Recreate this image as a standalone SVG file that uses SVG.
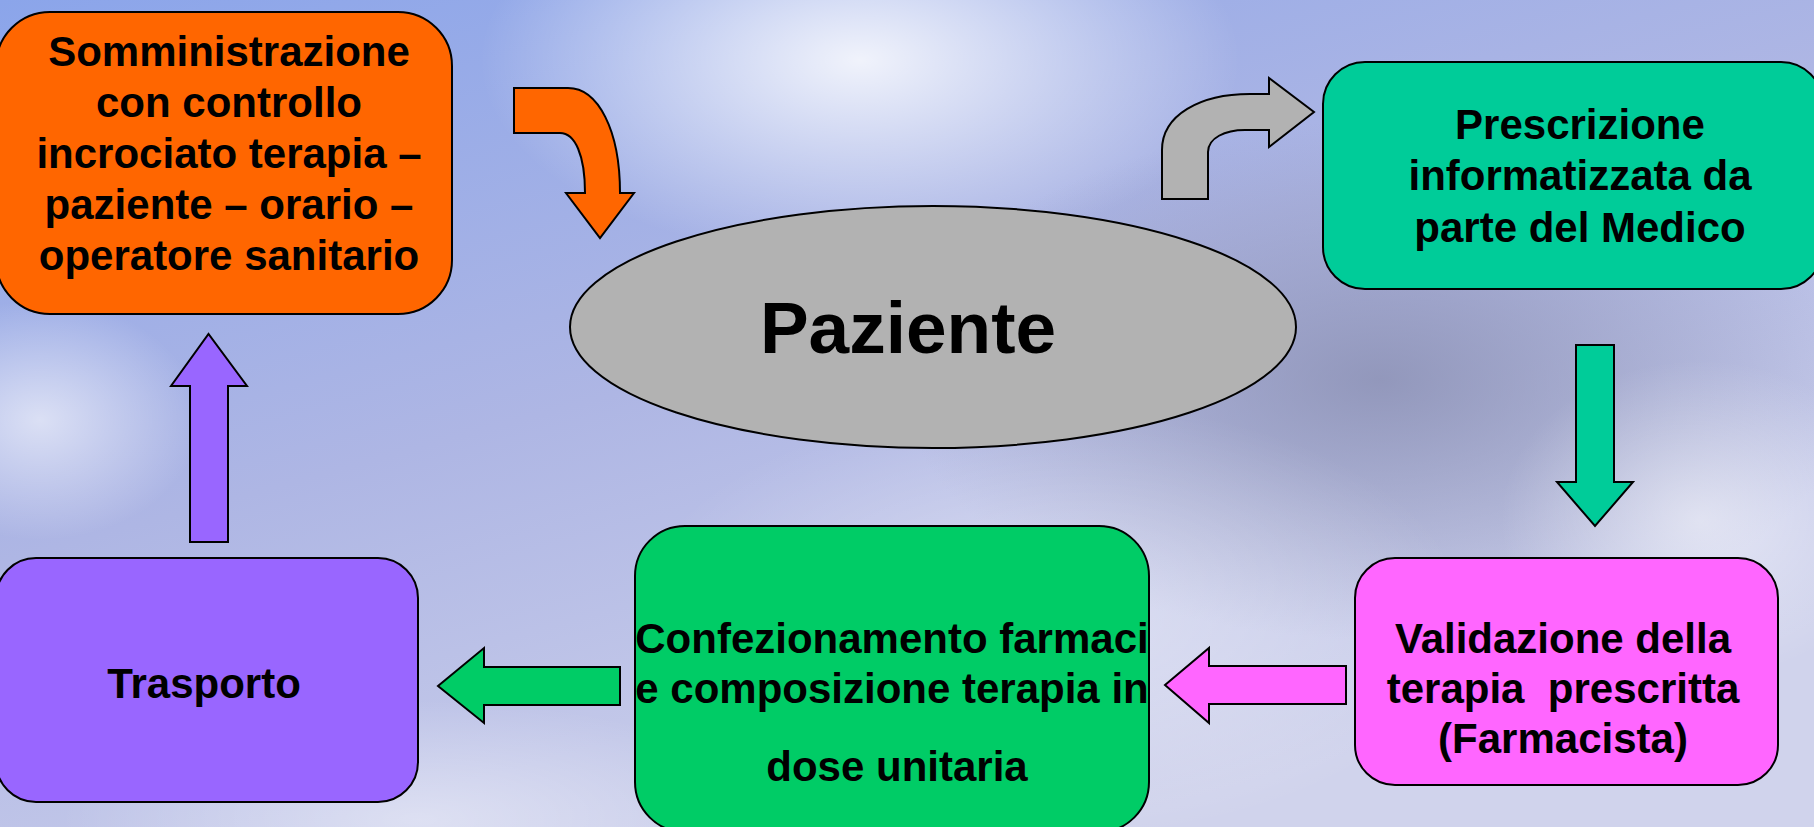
<svg xmlns="http://www.w3.org/2000/svg" width="1814" height="827" viewBox="0 0 1814 827">
<defs>
<linearGradient id="sky" x1="0" y1="0" x2="0.6" y2="1">
<stop offset="0" stop-color="#8ba5ea"/>
<stop offset="0.5" stop-color="#aeb6e4"/>
<stop offset="1" stop-color="#d0d3ec"/>
</linearGradient>
<radialGradient id="cloudW"><stop offset="0" stop-color="#ffffff" stop-opacity="0.85"/><stop offset="1" stop-color="#ffffff" stop-opacity="0"/></radialGradient>
<radialGradient id="cloudG"><stop offset="0" stop-color="#858aad" stop-opacity="0.75"/><stop offset="1" stop-color="#858aad" stop-opacity="0"/></radialGradient>
<clipPath id="clipConf"><rect x="635" y="526" width="514" height="306" rx="50"/></clipPath>
<style>
.box{stroke:#000;stroke-width:2}
.arr{stroke:#000;stroke-width:2;stroke-linejoin:miter}
.t{font-family:"Liberation Sans",Arial,sans-serif;font-weight:bold;font-size:42px;fill:#000;text-anchor:middle}
</style>
</defs>
<g id="background">
<rect x="0" y="0" width="1814" height="827" fill="url(#sky)"/>
<ellipse cx="860" cy="60" rx="380" ry="200" fill="url(#cloudW)"/>
<ellipse cx="1380" cy="380" rx="480" ry="260" fill="url(#cloudG)"/>
<ellipse cx="1050" cy="620" rx="420" ry="220" fill="url(#cloudW)" opacity="0.5"/>
<ellipse cx="40" cy="420" rx="160" ry="120" fill="url(#cloudW)" opacity="0.7"/>
<ellipse cx="1700" cy="520" rx="200" ry="160" fill="url(#cloudW)" opacity="0.6"/>
<ellipse cx="420" cy="820" rx="360" ry="120" fill="url(#cloudW)" opacity="0.5"/>
</g>
<g id="connectors">
<path id="arrow-orange" class="arr" fill="#ff6600" d="M514,88 L568,88 C598,88 620,130 620,193 L634,193 L600,238 L566,193 L585,193 C585,155 575,133 560,133 L514,133 Z"/>
<path id="arrow-gray" class="arr" fill="#b2b2b2" d="M1162,199 L1162,150 C1162,115 1200,94 1250,94 L1269,94 L1269,78 L1314,112 L1269,147 L1269,130 L1245,130 C1225,130 1208,138 1208,152 L1208,199 Z"/>
<path id="arrow-teal" class="arr" fill="#00cc99" d="M1576,345 L1614,345 L1614,482 L1633,482 L1595,526 L1557,482 L1576,482 Z"/>
<path id="arrow-pink" class="arr" fill="#ff66ff" d="M1346,666 L1346,704 L1209,704 L1209,723 L1165,685 L1209,648 L1209,666 Z"/>
<path id="arrow-green" class="arr" fill="#00cc66" d="M620,667 L620,705 L484,705 L484,723 L438,686 L484,648 L484,667 Z"/>
<path id="arrow-purple" class="arr" fill="#9966ff" d="M190,542 L228,542 L228,386 L247,386 L208.5,334 L171,386 L190,386 Z"/>
</g>
<g id="node-somministrazione">
<rect class="box" x="-4" y="12" width="456" height="302" rx="54" fill="#ff6600"/>
<text class="t" x="229" y="66">Somministrazione</text>
<text class="t" x="229" y="117">con controllo</text>
<text class="t" x="229" y="168">incrociato terapia –</text>
<text class="t" x="229" y="219">paziente – orario –</text>
<text class="t" x="229" y="270">operatore sanitario</text>
</g>
<g id="node-paziente">
<ellipse class="box" cx="933" cy="327" rx="363" ry="121" fill="#b2b2b2"/>
<text class="t" x="908" y="353" style="font-size:73px">Paziente</text>
</g>
<g id="node-prescrizione">
<rect class="box" x="1323" y="62" width="500" height="227" rx="42" fill="#00cc99"/>
<text class="t" x="1580" y="139">Prescrizione</text>
<text class="t" x="1580" y="190">informatizzata da</text>
<text class="t" x="1580" y="242">parte del Medico</text>
</g>
<g id="node-validazione">
<rect class="box" x="1355" y="558" width="423" height="227" rx="40" fill="#ff66ff"/>
<text class="t" x="1563" y="653">Validazione della</text>
<text class="t" x="1563" y="703" xml:space="preserve">terapia  prescritta</text>
<text class="t" x="1563" y="753">(Farmacista)</text>
</g>
<g id="node-confezionamento">
<rect class="box" x="635" y="526" width="514" height="306" rx="50" fill="#00cc66"/>
<g clip-path="url(#clipConf)">
<text class="t" x="892" y="653">Confezionamento farmaci</text>
<text class="t" x="892" y="703">e composizione terapia in</text>
</g>
<text class="t" x="897" y="781">dose unitaria</text>
</g>
<g id="node-trasporto">
<rect class="box" x="-4" y="558" width="422" height="244" rx="40" fill="#9966ff"/>
<text class="t" x="204" y="698">Trasporto</text>
</g>
</svg>
